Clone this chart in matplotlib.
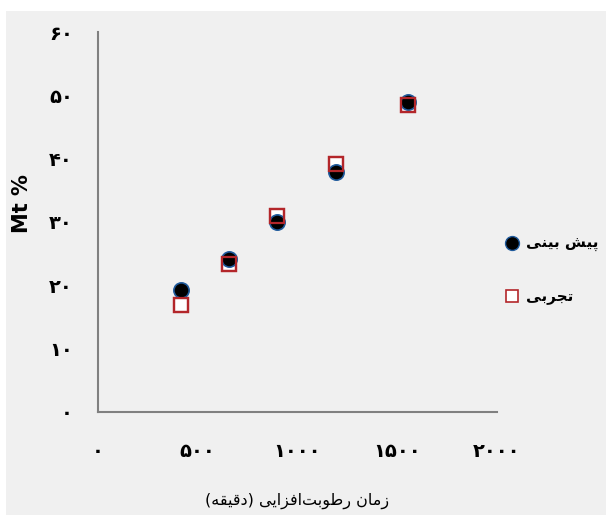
import matplotlib
matplotlib.use("Agg")
import matplotlib.pyplot as plt
from matplotlib.patches import Rectangle
from matplotlib.ticker import FixedLocator, FixedFormatter

# داده ها
time_min = [415, 655, 895, 1195, 1553]
mt_predicted = [19.3, 24.2, 30.0, 37.8, 48.9]
mt_experimental = [16.9, 23.4, 30.9, 39.2, 48.4]
x_ticks = [0, 500, 1000, 1500, 2000]
y_ticks = [0, 10, 20, 30, 40, 50, 60]
label_pred = "پیش بینی"
label_exp = "تجربی"
x_title = "زمان رطوبت\u200cافزایی (دقیقه)"
y_title = "Mt %"

# شکل دادن حروف فارسی (matplotlib خودش اتصال حروف را انجام نمی دهد)
FORMS = {
    'ا': ('\uFE8D', '\uFE8E', None, None),
    'ب': ('\uFE8F', '\uFE90', '\uFE91', '\uFE92'),
    'پ': ('\uFB56', '\uFB57', '\uFB58', '\uFB59'),
    'ت': ('\uFE95', '\uFE96', '\uFE97', '\uFE98'),
    'ج': ('\uFE9D', '\uFE9E', '\uFE9F', '\uFEA0'),
    'د': ('\uFEA9', '\uFEAA', None, None),
    'ر': ('\uFEAD', '\uFEAE', None, None),
    'ز': ('\uFEAF', '\uFEB0', None, None),
    'ش': ('\uFEB5', '\uFEB6', '\uFEB7', '\uFEB8'),
    'ط': ('\uFEC1', '\uFEC2', '\uFEC3', '\uFEC4'),
    'ف': ('\uFED1', '\uFED2', '\uFED3', '\uFED4'),
    'ق': ('\uFED5', '\uFED6', '\uFED7', '\uFED8'),
    'م': ('\uFEE1', '\uFEE2', '\uFEE3', '\uFEE4'),
    'ن': ('\uFEE5', '\uFEE6', '\uFEE7', '\uFEE8'),
    'ه': ('\uFEE9', '\uFEEA', '\uFEEB', '\uFEEC'),
    'و': ('\uFEED', '\uFEEE', None, None),
    'ی': ('\uFBFC', '\uFBFD', '\uFBFE', '\uFBFF'),
}


def fa(text):
    out = []
    for i, c in enumerate(text):
        if c == '\u200c':
            continue
        if c not in FORMS:
            out.append(c)
            continue
        iso, fin, ini, med = FORMS[c]
        prev = text[i - 1] if i > 0 else None
        nxt = text[i + 1] if i + 1 < len(text) else None
        jp = prev in FORMS and FORMS[prev][2] is not None
        jn = ini is not None and nxt in FORMS
        if jp and jn:
            out.append(med)
        elif jp:
            out.append(fin)
        elif jn:
            out.append(ini)
        else:
            out.append(iso)
    s = ''.join(reversed(out))
    return s.translate(str.maketrans('()', ')('))


def fa_num(n):
    return str(n).translate(str.maketrans('0123456789', '۰۱۲۳۴۵۶۷۸۹'))


plt.rcParams['font.family'] = ['DejaVu Sans']

fig = plt.figure(figsize=(6.06, 5.15), dpi=100)
fig.patch.set_facecolor('white')
fig.add_artist(Rectangle((6 / 606, 0), 1, 1 - 11 / 515, transform=fig.transFigure,
                         facecolor='#f0f0f0', edgecolor='none', zorder=0))

ax = fig.add_axes([98 / 606, 1 - 411.7 / 515, (497 - 98) / 606, (411.7 - 32) / 515])
ax.set_facecolor('none')
ax.set_xlim(0, 2000)
ax.set_ylim(0, 60)

red = '#b3262a'
ax.plot(time_min, mt_experimental, ls='none', marker='s', ms=10, mfc='white',
        mec=red, mew=1.6, zorder=2)
ax.plot(time_min, mt_predicted, ls='none', marker='o', ms=11, mfc='black',
        mec='#1f5a9c', mew=1.2, zorder=3)
ax.plot(time_min, mt_experimental, ls='none', marker='s', ms=10, mfc='none',
        mec=red, mew=1.6, zorder=4)

for s in ['top', 'right']:
    ax.spines[s].set_visible(False)
for s in ['left', 'bottom']:
    ax.spines[s].set_color('#808080')
    ax.spines[s].set_linewidth(1.5)

ax.xaxis.set_major_locator(FixedLocator(x_ticks))
ax.xaxis.set_major_formatter(FixedFormatter([fa_num(v) for v in x_ticks]))
ax.yaxis.set_major_locator(FixedLocator(y_ticks))
ax.yaxis.set_major_formatter(FixedFormatter([fa_num(v) for v in y_ticks]))
ax.tick_params(axis='both', length=0, labelsize=14)
ax.tick_params(axis='x', pad=22)
ax.tick_params(axis='y', pad=18)
for t in ax.get_xticklabels() + ax.get_yticklabels():
    t.set_fontweight('bold')

ax.set_xlabel(fa(x_title), fontsize=11.5, labelpad=23)
ax.set_ylabel(y_title, fontsize=15, fontweight='bold', labelpad=12, y=0.547)

h1, = ax.plot([], [], ls='none', marker='o', ms=10, mfc='black', mec='#1f5a9c')
h2, = ax.plot([], [], ls='none', marker='s', ms=9, mfc='white', mec=red, mew=1.2)
fig.legend([h1, h2], [fa(label_pred), fa(label_exp)], loc='upper left',
           bbox_to_anchor=(498 / 606, 1 - 230 / 515), frameon=False,
           prop={'size': 11, 'weight': 'bold'}, handlelength=1.0,
           handletextpad=0.45, labelspacing=2.4, borderaxespad=0)

fig.savefig('out.png', dpi=100, facecolor=fig.get_facecolor())
